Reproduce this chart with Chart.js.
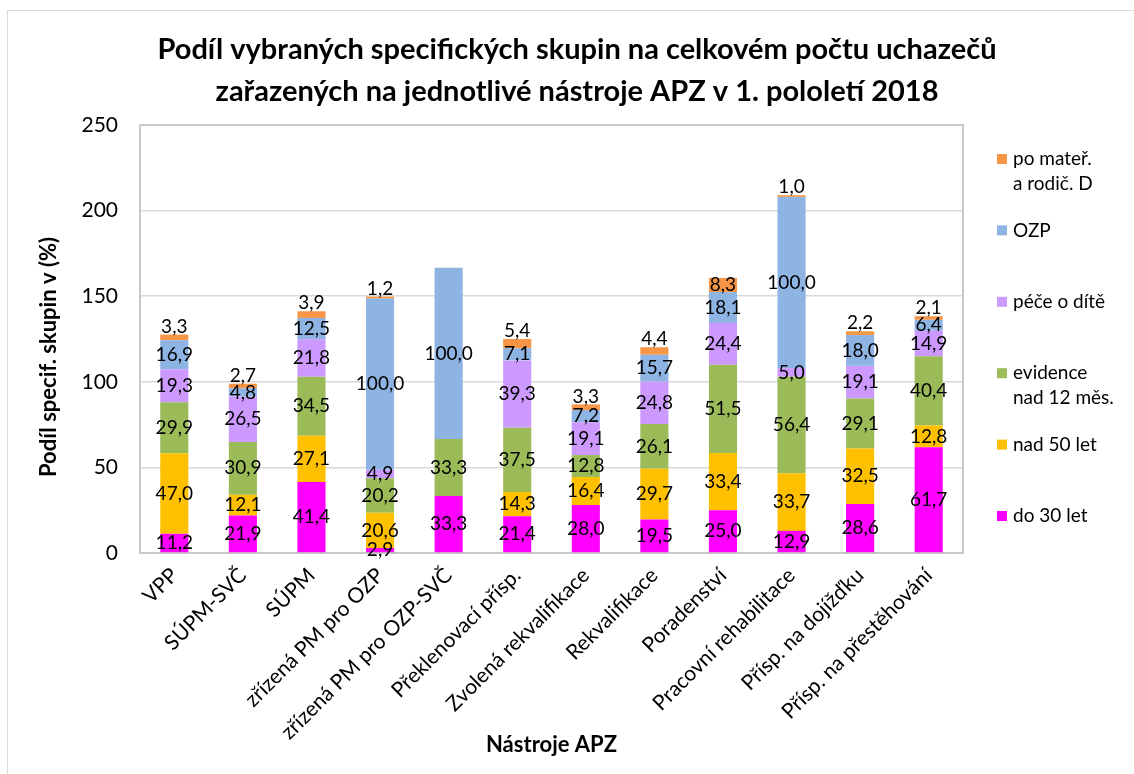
<!DOCTYPE html>
<html lang="cs">
<head>
  <meta charset="UTF-8">
  <title>Podíl vybraných specifických skupin</title>
  <script src="https://cdn.jsdelivr.net/npm/chart.js"></script>
  <style>
    body { margin: 0; background: #fff; }
  </style>
</head>
<body>
  <canvas id="graf" width="1134" height="774"></canvas>

  <script>
    const kategorie = ['VPP', 'SÚPM-SVČ', 'SÚPM', 'zřízená PM pro OZP', 'zřízená PM pro OZP-SVČ',
      'Překlenovací přísp.', 'Zvolená rekvalifikace', 'Rekvalifikace', 'Poradenství',
      'Pracovní rehabilitace', 'Přísp. na dojížďku', 'Přísp. na přestěhování'];

    const do30 = [11.2, 21.9, 41.4, 2.9, 33.3, 21.4, 28.0, 19.5, 25.0, 12.9, 28.6, 61.7];
    const nad50 = [47.0, 12.1, 27.1, 20.6, 0, 14.3, 16.4, 29.7, 33.4, 33.7, 32.5, 12.8];
    const evidence = [29.9, 30.9, 34.5, 20.2, 33.3, 37.5, 12.8, 26.1, 51.5, 56.4, 29.1, 40.4];
    const pece = [19.3, 26.5, 21.8, 4.9, 0, 39.3, 19.1, 24.8, 24.4, 5.0, 19.1, 14.9];
    const ozp = [16.9, 4.8, 12.5, 100.0, 100.0, 7.1, 7.2, 15.7, 18.1, 100.0, 18.0, 6.4];
    const poMater = [3.3, 2.7, 3.9, 1.2, 0, 5.4, 3.3, 4.4, 8.3, 1.0, 2.2, 2.1];

    const nazvy = [['do 30 let'], ['nad 50 let'], ['evidence', 'nad 12 měs.'], ['péče o dítě'], ['OZP'], ['po mateř.', 'a rodič. D']];
    const barvy = ['#ff00ff', '#ffc000', '#9bbb59', '#cc99ff', '#8eb4e3', '#f79646'];
    const hodnoty = [do30, nad50, evidence, pece, ozp, poMater];

    const osaY = [0, 50, 100, 150, 200, 250];

    const nadpis = ['Podíl vybraných specifických skupin na celkovém počtu uchazečů',
                    'zařazených na jednotlivé nástroje APZ v 1. pololetí 2018'];
    const titulekY = 'Podíl specif. skupin v (%)';

    const pismo = 'Lato, "Open Sans", sans-serif';

    function cislo(v) {
      return v.toFixed(1).replace('.', ',');
    }

    Chart.defaults.font.family = pismo;
    Chart.defaults.color = '#000';

    // okraje grafu a plochy
    const ramecek = {
      id: 'ramecek',
      beforeDraw(chart) {
        const ctx = chart.ctx;
        ctx.save();
        ctx.strokeStyle = '#d9d9d9';
        ctx.lineWidth = 1;
        ctx.beginPath();
        ctx.moveTo(7.5, 800);
        ctx.lineTo(7.5, 10.5);
        ctx.lineTo(1200, 10.5);
        ctx.stroke();
        ctx.restore();
      },
      beforeDatasetsDraw(chart) {
        const a = chart.chartArea;
        const ctx = chart.ctx;
        ctx.save();
        ctx.strokeStyle = '#c8c8c8';
        ctx.lineWidth = 2;
        ctx.strokeRect(a.left, a.top, a.right - a.left, a.bottom - a.top);
        ctx.restore();
      }
    };

    // nadpis nahoře a popis osy y
    const texty = {
      id: 'texty',
      afterDraw(chart) {
        const ctx = chart.ctx;
        const a = chart.chartArea;
        ctx.save();
        ctx.fillStyle = '#000';
        ctx.textAlign = 'center';
        ctx.textBaseline = 'middle';
        ctx.font = 'bold 29px ' + pismo;
        nadpis.forEach((r, k) => ctx.fillText(r, chart.width / 2 + 10, 50 + k * 42));
        ctx.font = 'bold 22px ' + pismo;
        ctx.translate(49, (a.top + a.bottom) / 2 + 18);
        ctx.rotate(-Math.PI / 2);
        ctx.fillText(titulekY, 0, 0);
        ctx.restore();
      }
    };

    // popisky hodnot
    const popisky = {
      id: 'popisky',
      afterDatasetsDraw(chart) {
        const ctx = chart.ctx;
        ctx.save();
        ctx.font = '19px ' + pismo;
        ctx.fillStyle = '#000';
        ctx.textAlign = 'center';
        ctx.textBaseline = 'middle';
        const posledni = chart.data.datasets.length - 1;
        chart.data.datasets.forEach((ds, i) => {
          const meta = chart.getDatasetMeta(i);
          meta.data.forEach((bar, j) => {
            const v = ds.data[j];
            if (!v) return;
            const p = bar.getProps(['x', 'y', 'base'], true);
            let cy = (p.y + p.base) / 2;
            if (i === posledni && p.base - p.y < 12) cy = p.y - 8;
            ctx.fillText(cislo(v), p.x, cy);
          });
        });
        ctx.restore();
      }
    };

    // legenda vpravo, v opačném pořadí
    const legenda = {
      id: 'legenda',
      afterDraw(chart) {
        const ctx = chart.ctx;
        const a = chart.chartArea;
        ctx.save();
        ctx.font = '19px ' + pismo;
        ctx.textBaseline = 'middle';
        ctx.textAlign = 'left';
        const x = a.right + 34;
        let y = a.top + 34;
        for (let i = chart.data.datasets.length - 1; i >= 0; i--) {
          ctx.fillStyle = chart.data.datasets[i].backgroundColor;
          ctx.fillRect(x, y - 5, 10, 10);
          ctx.fillStyle = '#000';
          nazvy[i].forEach((radek, k) => ctx.fillText(radek, x + 16, y + k * 25));
          y += 71.4;
        }
        ctx.restore();
      }
    };

    new Chart(document.getElementById('graf'), {
      type: 'bar',
      data: {
        labels: kategorie,
        datasets: hodnoty.map((h, i) => ({
          label: nazvy[i].join(' '),
          data: h,
          backgroundColor: barvy[i],
          barPercentage: 0.41,
          categoryPercentage: 1
        }))
      },
      options: {
        responsive: false,
        animation: false,
        layout: { padding: { left: 0, right: 171, top: 125, bottom: 12 } },
        plugins: {
          legend: { display: false },
          tooltip: { enabled: false },
          title: { display: false }
        },
        scales: {
          x: {
            stacked: true,
            grid: { display: false },
            border: { display: false },
            ticks: { font: { size: 21 }, color: '#000', minRotation: 45, maxRotation: 45, autoSkip: false, padding: 2 },
            title: { display: true, text: 'Nástroje APZ', font: { size: 22, weight: 'bold' }, color: '#000', padding: 4 },
            afterFit(s) { s.height = 209; }
          },
          y: {
            stacked: true,
            min: 0,
            max: 250,
            afterBuildTicks(s) { s.ticks = osaY.map(v => ({ value: v })); },
            grid: { color: '#d9d9d9', lineWidth: 1.5, drawTicks: false },
            border: { display: false },
            ticks: { font: { size: 21 }, color: '#000', padding: 22 },
            afterFit(s) { s.width = 140; }
          }
        }
      },
      plugins: [ramecek, texty, popisky, legenda]
    });
  </script>
</body>
</html>
